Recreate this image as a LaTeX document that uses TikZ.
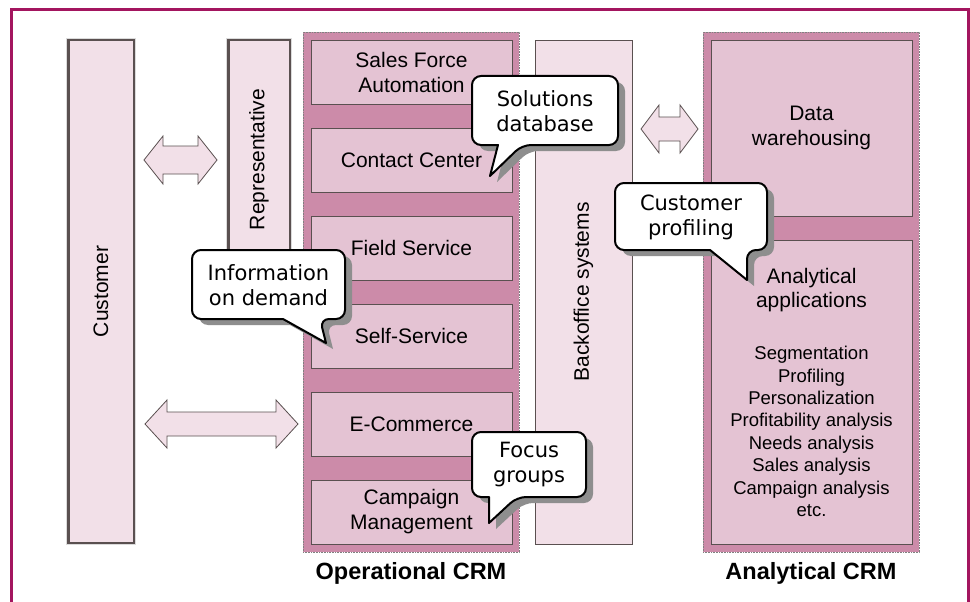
\documentclass[tikz,border=0pt]{standalone}
\usepackage{fontspec}
\setmainfont{Liberation Sans}
\newfontfamily\callfont{DejaVu Sans}
\definecolor{framecol}{HTML}{A3155F}
\definecolor{lightpink}{HTML}{F2E0E8}
\definecolor{midpink}{HTML}{E4C3D3}
\definecolor{darkpink}{HTML}{CC8BA9}
\definecolor{edgecol}{HTML}{5A5050}
\definecolor{shadowgray}{HTML}{8E8E8E}
\newcommand\dblarr[6]{%
  \draw[arrowshape] (#1,#3) -- (#1+#6,#3-#4) -- (#1+#6,#3-#5) -- (#2-#6,#3-#5) -- (#2-#6,#3-#4) -- (#2,#3)
    -- (#2-#6,#3+#4) -- (#2-#6,#3+#5) -- (#1+#6,#3+#5) -- (#1+#6,#3+#4) -- cycle;}
\newcommand\bubblepath[8]{%
  \fill[shadowgray, xshift=7pt, yshift=-6pt] [rounded corners=9pt] (#5,#4) -- (#1,#4) -- (#1,#2) -- (#3,#2) -- (#3,#4) -- (#6,#4) [sharp corners] -- (#7,#8) -- cycle;
  \draw[fill=white, line width=2pt, line join=round] [rounded corners=9pt] (#5,#4) -- (#1,#4) -- (#1,#2) -- (#3,#2) -- (#3,#4) -- (#6,#4) [sharp corners] -- (#7,#8) -- cycle;}
\newcommand\innerline[1]{%
  \draw[white!72!gray, line width=1.1pt] (#1.north west) rectangle (#1.south east);}
\begin{document}
\begin{tikzpicture}[x=1pt,y=-1pt,
  container/.style={draw=gray, densely dotted, line width=0.6pt, fill=darkpink, minimum width=216pt, minimum height=520pt, inner sep=0pt},
  opbox/.style={draw=edgecol, line width=0.9pt, fill=midpink, minimum width=201pt, inner sep=0pt, align=center, font=\fontsize{21}{25}\selectfont},
  sidebox/.style={draw=edgecol, line width=3pt, fill=lightpink, rotate=90, inner sep=0pt, font=\fontsize{21}{25}\selectfont},
  backbox/.style={draw=edgecol, line width=0.8pt, fill=lightpink, rotate=90, inner sep=0pt, font=\fontsize{21}{25}\selectfont},
  arrowshape/.style={draw=edgecol, line width=0.8pt, fill=lightpink, line join=miter},
  calltext/.style={align=center, inner sep=0pt, font=\callfont\fontsize{21}{25}\selectfont},
  crmlabel/.style={font=\bfseries\fontsize{23.5}{28}\selectfont, inner sep=0pt}
]
\useasboundingbox (0,0) rectangle (970,602);
\fill[white] (0,0) rectangle (970,602);
% frame
\draw[framecol, line width=3pt] (11,602) -- (11,9.5) -- (968,9.5) -- (968,602);

% containers
\node[container] (opcrm) at (411,292) {};
\node[container] (anacrm) at (811,292) {};

% operational boxes
\node[opbox, minimum height=64pt] (sfa) at (411.5,72) {Sales Force\\Automation};
\node[opbox, minimum height=64pt] (cc) at (411.5,160) {Contact Center};
\node[opbox, minimum height=64pt] (fs) at (411.5,248) {Field Service};
\node[opbox, minimum height=64pt] (ss) at (411.5,336) {Self-Service};
\node[opbox, minimum height=64pt] (ec) at (411.5,424) {E-Commerce};
\node[opbox, minimum height=64pt] (cm) at (411.5,512) {Campaign\\Management};

% analytical boxes
\node[opbox, minimum height=176pt] (dw) at (811.5,128) {Data\\warehousing};
\node[opbox, minimum height=304pt] (aa) at (811.5,392) {};
\node[align=center, inner sep=0pt, font=\fontsize{21}{24}\selectfont] (aatitle) at (811.5,290) {Analytical\\applications};
\node[align=center, inner sep=0pt, font=\fontsize{18.5}{22.4}\selectfont] (aalist) at (811.5,431.5) {Segmentation\\Profiling\\Personalization\\Profitability analysis\\Needs analysis\\Sales analysis\\Campaign analysis\\etc.};

% side boxes
\node[sidebox, minimum width=503pt, minimum height=66pt] (cust) at (101,291.5) {Customer};
\innerline{cust}
\node[sidebox, minimum width=239pt, minimum height=62pt] (rep) at (259,159.5) {Representative};
\innerline{rep}
\node[backbox, minimum width=504pt, minimum height=97pt] (back) at (583.5,292) {Backoffice systems};

% double arrows
\dblarr{144}{217}{160}{24}{14}{19}
\dblarr{145}{298}{424}{24}{12}{22}
\dblarr{641}{698}{129}{24}{12}{18}

% labels
\node[crmlabel] (oplabel) at (411,573) {Operational CRM};
\node[crmlabel] (analabel) at (811,573) {Analytical CRM};

% callouts
\bubblepath{472}{76}{618}{145}{498}{522}{490}{176}
\node[calltext] (sol) at (545,111) {Solutions\\database};
\bubblepath{192}{250}{345}{319}{283}{320}{326}{343}
\node[calltext] (info) at (268.5,285) {Information\\on demand};
\bubblepath{615}{183}{767}{250}{710}{747}{747}{280}
\node[calltext] (prof) at (691,217) {Customer\\profiling};
\bubblepath{472}{432}{586}{497}{489}{517}{489}{523}
\node[calltext] (focus) at (529,465) {Focus\\groups};
\end{tikzpicture}
\end{document}
